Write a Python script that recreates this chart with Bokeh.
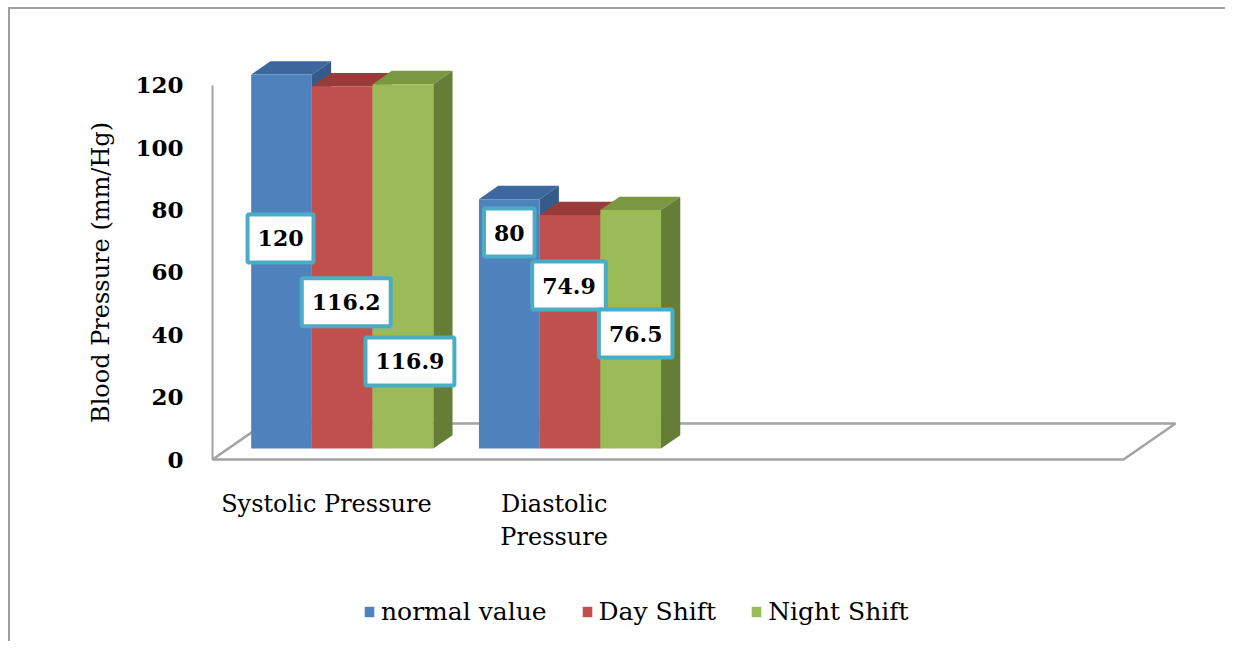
import math
from bokeh.plotting import figure
from bokeh.models import FixedTicker, Range1d, Legend, LegendItem, ColumnDataSource
from bokeh.embed import file_html
from bokeh.resources import INLINE
from bokeh.core.properties import value

# ---------------- data ----------------
categories = ["Systolic Pressure", "Diastolic Pressure"]
category_tick_labels = ["Systolic Pressure", "Diastolic\nPressure"]
series_names = ["normal value", "Day Shift", "Night Shift"]
normal_value = [120, 80]
day_shift = [116.2, 74.9]
night_shift = [116.9, 76.5]
y_ticks = [0, 20, 40, 60, 80, 100, 120]
y_axis_title = "Blood Pressure (mm/Hg)"
n_slots = 4  # category slots on the floor

series_values = [normal_value, day_shift, night_shift]

# ---------------- style / layout ----------------
FRONT = ["#4f81bd", "#c0504d", "#9bbb59"]
TOP = ["#3d689d", "#993b38", "#7a9841"]
SIDE = ["#355b8b", "#8a3432", "#657d37"]
GRAY = "#a3a3a3"
LABEL_BORDER = "#4bacc6"
SERIF = "DejaVu Serif"

W, H = 1225, 641
ML, MR, MT, MB = 80, 25, 40, 0
PX_X = 227.75            # pixels per category slot
PX_Y = 3.117             # pixels per mmHg
AXIS_X_PX = 212 - ML     # where the value axis sits inside the frame
AXIS_Y_PX = 459 - MT     # where the floor front edge sits inside the frame
FRAME_W = W - ML - MR
FRAME_H = H - MT - MB
X_START = -AXIS_X_PX / PX_X
X_END = X_START + FRAME_W / PX_X
Y_END = AXIS_Y_PX / PX_Y
Y_START = Y_END - FRAME_H / PX_Y

FLOOR_DX = 52 / PX_X      # floor depth in data units
FLOOR_DY = 36 / PX_Y
FRONT_FRAC = 0.305        # bar front face depth position
DEPTH_FRAC = 0.37         # bar depth
BAR_W = 0.2665
SHIFT_X = FRONT_FRAC * FLOOR_DX
SHIFT_Y = FRONT_FRAC * FLOOR_DY
DDX = DEPTH_FRAC * FLOOR_DX
DDY = DEPTH_FRAC * FLOOR_DY

# label placement (fraction of bar height, pixel x offset)
LABEL_FRAC = [[0.591, 0.91], [0.434, 0.745], [0.269, 0.528]]
LABEL_XOFF = [[-1, 0], [4, -1], [7, 5]]

p = figure(width=W, height=H, output_backend="svg", toolbar_location=None,
           x_range=Range1d(X_START, X_END), y_range=Range1d(Y_START, Y_END),
           min_border_left=ML, min_border_right=MR, min_border_top=MT,
           min_border_bottom=MB, title=None)
p.background_fill_color = "white"
p.border_fill_color = None
p.outline_line_color = None
p.xgrid.visible = False
p.ygrid.visible = False
p.styles = {"box-shadow": "inset 8px 7px 0 0 #ffffff, inset 10px 9px 0 0 #a0a0a0"}

# floor
p.patch([0, n_slots, n_slots + FLOOR_DX, FLOOR_DX], [0, 0, FLOOR_DY, FLOOR_DY],
        fill_color=None, line_color=GRAY, line_width=2.5)

front_renderers = []
lx, ly, lt, lxo = [], [], [], []
n_cat = len(categories)
for j, vals in enumerate(series_values):
    lefts = [i + 0.5 - 1.5 * BAR_W + j * BAR_W + SHIFT_X for i in range(n_cat)]
    rights = [l + BAR_W for l in lefts]
    bottoms = [SHIFT_Y] * n_cat
    tops = [v + SHIFT_Y for v in vals]
    top_xs = [[l, r, r + DDX, l + DDX] for l, r in zip(lefts, rights)]
    top_ys = [[t, t, t + DDY, t + DDY] for t in tops]
    side_xs = [[r, r, r + DDX, r + DDX] for r in rights]
    side_ys = [[b, t, t + DDY, b + DDY] for b, t in zip(bottoms, tops)]
    p.patches(top_xs, top_ys, fill_color=TOP[j], line_color=None)
    p.patches(side_xs, side_ys, fill_color=SIDE[j], line_color=None)
    fr = p.quad(left=lefts, right=rights, bottom=bottoms, top=tops,
                fill_color=FRONT[j], line_color=None)
    front_renderers.append(fr)
    for i, v in enumerate(vals):
        lx.append((lefts[i] + rights[i]) / 2)
        ly.append(v * LABEL_FRAC[j][i])
        lt.append(f"{v:g}")
        lxo.append(LABEL_XOFF[j][i])

src = ColumnDataSource(dict(x=lx, y=ly, text=lt, xo=lxo))
p.text(x="x", y="y", text="text", x_offset="xo", source=src,
       text_align="center", text_baseline="middle",
       text_font=value(SERIF), text_font_style="bold", text_font_size="22px",
       text_color="black",
       background_fill_color="white", border_line_color=LABEL_BORDER,
       border_line_width=4, padding=dict(left=10, right=10, top=16, bottom=16))

# value axis title (rotated), centred on the tick span
p.text(x=[-112 / PX_X], y=[(y_ticks[0] + y_ticks[-1]) / 2], text=[y_axis_title],
       angle=math.pi / 2, text_align="center", text_baseline="middle",
       text_font=value(SERIF), text_font_size="24px", text_color="black")

# y axis, fixed at the front-left edge of the floor
ya = p.yaxis[0]
ya.fixed_location = 0
ya.ticker = FixedTicker(ticks=y_ticks)
ya.bounds = (0, 120)
ya.axis_line_color = GRAY
ya.axis_line_width = 2
ya.major_tick_line_color = None
ya.minor_tick_line_color = None
ya.major_tick_out = 0
ya.major_tick_in = 0
ya.major_label_standoff = 29
ya.major_label_text_font = SERIF
ya.major_label_text_font_style = "bold"
ya.major_label_text_font_size = "23px"
ya.major_label_text_color = "black"

# x axis, fixed at the floor front edge
xa = p.xaxis[0]
xa.fixed_location = 0
xa.ticker = FixedTicker(ticks=[i + 0.5 for i in range(n_cat)])
xa.major_label_overrides = {i + 0.5: lab for i, lab in enumerate(category_tick_labels)}
xa.axis_line_color = None
xa.major_tick_line_color = None
xa.minor_tick_line_color = None
xa.major_tick_out = 0
xa.major_tick_in = 0
xa.major_label_standoff = 30
xa.major_label_text_font = SERIF
xa.major_label_text_font_size = "24px"
xa.major_label_text_color = "black"

legend = Legend(items=[LegendItem(label=n, renderers=[r])
                       for n, r in zip(series_names, front_renderers)],
                orientation="horizontal", location=(283, 15),
                background_fill_alpha=0, border_line_color=None,
                padding=0, margin=0, spacing=34, label_standoff=6,
                glyph_width=12, glyph_height=13, label_height=20,
                label_text_font=SERIF, label_text_font_size="25px",
                label_text_color="black")
p.add_layout(legend)

open("out.html", "w").write(file_html(p, INLINE))
